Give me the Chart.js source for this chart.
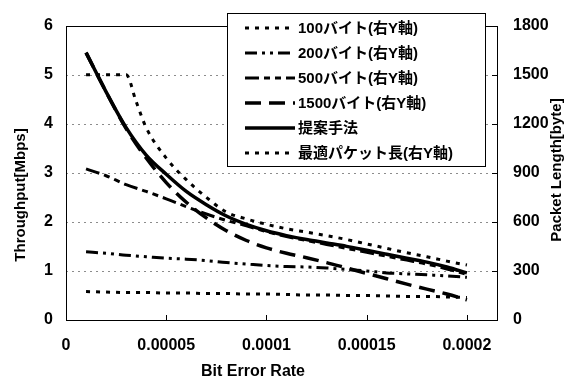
<!DOCTYPE html>
<html>
<head>
<meta charset="utf-8">
<script src="https://cdn.jsdelivr.net/npm/chart.js@4.4.1/dist/chart.umd.min.js"></script>
<style>
	html, body { margin: 0; padding: 0; background: #fff; }
</style>
</head>
<body>
<canvas id="chart-ber" width="567" height="382"></canvas>
<script>
// Bit error rate samples (x)
const BER = [0.00001, 0.00002, 0.00003, 0.00004, 0.00005, 0.00006, 0.00007, 0.00008, 0.00009, 0.0001,
	0.00011, 0.00012, 0.00013, 0.00014, 0.00015, 0.00016, 0.00017, 0.00018, 0.00019, 0.0002];
const OPT_BER = [0.00001, 0.00002, 0.00003, 0.000035, 0.00004, 0.00005, 0.00006, 0.00007, 0.00008, 0.00009, 0.0001,
	0.00011, 0.00012, 0.00013, 0.00014, 0.00015, 0.00016, 0.00017, 0.00018, 0.00019, 0.0002];

// Throughput [Mbps]
const THR_100 = [0.58, 0.57, 0.56, 0.56, 0.55, 0.55, 0.54, 0.54, 0.53, 0.53, 0.52, 0.51, 0.51, 0.50, 0.50, 0.49, 0.48, 0.48, 0.47, 0.46];
const THR_200 = [1.39, 1.36, 1.32, 1.29, 1.26, 1.24, 1.21, 1.17, 1.14, 1.11, 1.09, 1.08, 1.06, 1.03, 1.00, 0.96, 0.94, 0.92, 0.90, 0.87];
const THR_500 = [3.08, 2.94, 2.76, 2.62, 2.47, 2.31, 2.16, 2.03, 1.92, 1.80, 1.70, 1.62, 1.54, 1.46, 1.38, 1.30, 1.22, 1.14, 1.04, 0.93];
const THR_1500 = [5.45, 4.65, 3.90, 3.30, 2.80, 2.40, 2.08, 1.82, 1.62, 1.47, 1.36, 1.27, 1.17, 1.06, 0.95, 0.84, 0.73, 0.63, 0.53, 0.41];
const THR_PROPOSED = [5.45, 4.65, 3.92, 3.36, 2.97, 2.62, 2.35, 2.12, 1.95, 1.82, 1.72, 1.64, 1.57, 1.50, 1.42, 1.34, 1.26, 1.18, 1.08, 0.96];

// Optimal packet length [byte] (right axis)
const OPT_LEN = [1500, 1500, 1500, 1335, 1176, 990, 858, 750, 660, 618, 585, 558, 537, 516, 492, 465, 438, 411, 387, 360, 336];

const LABELS = ["100バイト(右Y軸)", "200バイト(右Y軸)", "500バイト(右Y軸)", "1500バイト(右Y軸)", "提案手法", "最適パケット長(右Y軸)"];

// Ticks
const X_TICKS = [0, 0.00005, 0.0001, 0.00015, 0.0002];
const X_TICK_LABELS = ["0", "0.00005", "0.0001", "0.00015", "0.0002"];
const Y_TICKS = [0, 1, 2, 3, 4, 5, 6];
const Y1_TICKS = [0, 300, 600, 900, 1200, 1500, 1800];

const X_TITLE = "Bit Error Rate";
const Y_TITLE = "Throughput[Mbps]";
const Y1_TITLE = "Packet Length[byte]";

const FONT = '"Liberation Sans", Arial, "Noto Sans CJK JP", sans-serif';
Chart.defaults.font.family = FONT;
Chart.defaults.color = "#000";

const toPoints = (xs, ys) => xs.map((x, i) => ({ x: x, y: ys[i] }));

const lineStyle = (dash, width) => ({
	borderColor: "#000",
	backgroundColor: "#000",
	borderWidth: width,
	borderDash: dash,
	pointRadius: 0,
	fill: false,
	cubicInterpolationMode: "monotone",
});

//---------------------------------------------------------
// Plugin: grid, frame, inner ticks, axis titles, legend box
//---------------------------------------------------------
const decorations = {
	id: "decorations",
	beforeDatasetsDraw(chart) {
		const { ctx, chartArea: a } = chart;
		const ys = chart.scales.y;
		ctx.save();

		// dotted horizontal grid
		ctx.strokeStyle = "#8c8c8c";
		ctx.lineWidth = 1;
		ctx.setLineDash([2, 4]);
		ctx.beginPath();
		Y_TICKS.slice(1, -1).forEach((v) => {
			const py = Math.round(ys.getPixelForValue(v)) + 0.5;
			ctx.moveTo(a.left, py);
			ctx.lineTo(a.right, py);
		});
		ctx.stroke();

		// frame
		ctx.strokeStyle = "#000";
		ctx.setLineDash([]);
		ctx.strokeRect(Math.round(a.left) + 0.5, Math.round(a.top) + 0.5, Math.round(a.right - a.left), Math.round(a.bottom - a.top));

		// small inner ticks
		const xs = chart.scales.x;
		ctx.beginPath();
		X_TICKS.slice(1).forEach((v) => {
			const px = Math.round(xs.getPixelForValue(v)) + 0.5;
			ctx.moveTo(px, a.bottom);
			ctx.lineTo(px, a.bottom - 5);
		});
		const y1 = chart.scales.y1;
		Y1_TICKS.forEach((v) => {
			const py = Math.round(y1.getPixelForValue(v)) + 0.5;
			ctx.moveTo(a.right, py);
			ctx.lineTo(a.right - 5, py);
		});
		ctx.stroke();
		ctx.restore();
	},
	afterDraw(chart) {
		const { ctx } = chart;
		ctx.save();
		ctx.fillStyle = "#000";
		ctx.textAlign = "center";
		ctx.textBaseline = "middle";

		// axis titles
		ctx.font = "bold 16px " + FONT;
		ctx.fillText(X_TITLE, 253, 372);
		ctx.font = "bold 15px " + FONT;
		ctx.save();
		ctx.translate(21, 195);
		ctx.rotate(-Math.PI / 2);
		ctx.fillText(Y_TITLE, 0, 0);
		ctx.restore();
		ctx.save();
		ctx.translate(557, 170);
		ctx.rotate(-Math.PI / 2);
		ctx.fillText(Y1_TITLE, 0, 0);
		ctx.restore();

		// legend box
		ctx.fillStyle = "#fff";
		ctx.fillRect(227.5, 13.5, 258, 153);
		ctx.strokeStyle = "#000";
		ctx.lineWidth = 1;
		ctx.strokeRect(227.5, 13.5, 258, 153);

		ctx.font = "bold 15px " + FONT;
		ctx.textAlign = "left";
		chart.data.datasets.forEach((ds, i) => {
			const y = 28 + i * 25;
			ctx.strokeStyle = "#000";
			ctx.lineWidth = ds.borderWidth;
			ctx.setLineDash(ds.borderDash || []);
			ctx.beginPath();
			ctx.moveTo(245, y);
			ctx.lineTo(295, y);
			ctx.stroke();
			ctx.setLineDash([]);
			ctx.fillStyle = "#000";
			ctx.fillText(ds.label, 298, y + 1);
		});
		ctx.restore();
	},
};

//---------------------------------------------------------
// Chart
//---------------------------------------------------------
const CHART_DATA = {
	datasets: [
		{ label: LABELS[0], data: toPoints(BER, THR_100), yAxisID: "y", ...lineStyle([4, 6], 3) },
		{ label: LABELS[1], data: toPoints(BER, THR_200), yAxisID: "y", ...lineStyle([12, 5, 3, 5, 3, 5], 3) },
		{ label: LABELS[2], data: toPoints(BER, THR_500), yAxisID: "y", ...lineStyle([14, 5, 6, 5, 6, 5], 3) },
		{ label: LABELS[3], data: toPoints(BER, THR_1500), yAxisID: "y", ...lineStyle([16, 8], 3.5) },
		{ label: LABELS[4], data: toPoints(BER, THR_PROPOSED), yAxisID: "y", ...lineStyle([], 3.5) },
		{ label: LABELS[5], data: toPoints(OPT_BER, OPT_LEN), yAxisID: "y1", ...lineStyle([4, 6], 3) },
	],
};

const tickFont = { size: 16, weight: "bold", family: FONT };

const CHART_CONFIG = {
	type: "line",
	data: CHART_DATA,
	options: {
		responsive: false,
		animation: false,
		devicePixelRatio: 1,
		layout: { padding: { top: 25, left: 0, right: 0, bottom: 0 } },
		plugins: {
			legend: { display: false },
			title: { display: false },
			tooltip: { enabled: false },
		},
		scales: {
			x: {
				type: "linear",
				min: 0,
				max: 0.000215,
				afterBuildTicks: (s) => { s.ticks = X_TICKS.map((v) => ({ value: v })); },
				afterFit: (s) => { s.height = 62; },
				grid: { display: false, drawTicks: false },
				border: { display: false },
				ticks: {
					font: tickFont,
					color: "#000",
					padding: 16,
					maxRotation: 0,
					autoSkip: false,
					callback: (v, i) => X_TICK_LABELS[i],
				},
			},
			y: {
				position: "left",
				min: 0,
				max: 6,
				afterBuildTicks: (s) => { s.ticks = Y_TICKS.map((v) => ({ value: v })); },
				afterFit: (s) => { s.width = 66; },
				grid: { display: false, drawTicks: false },
				border: { display: false },
				ticks: { font: tickFont, color: "#000", padding: 13, callback: (v) => String(v) },
			},
			y1: {
				position: "right",
				min: 0,
				max: 1800,
				afterBuildTicks: (s) => { s.ticks = Y1_TICKS.map((v) => ({ value: v })); },
				afterFit: (s) => { s.width = 70; },
				grid: { display: false, drawTicks: false },
				border: { display: false },
				ticks: { font: tickFont, color: "#000", padding: 16, callback: (v) => String(v) },
			},
		},
	},
	plugins: [decorations],
};

const CHART_WRAPPER = document.getElementById("chart-ber");
if (CHART_WRAPPER) {
	new Chart(CHART_WRAPPER, CHART_CONFIG);
}
</script>
</body>
</html>
